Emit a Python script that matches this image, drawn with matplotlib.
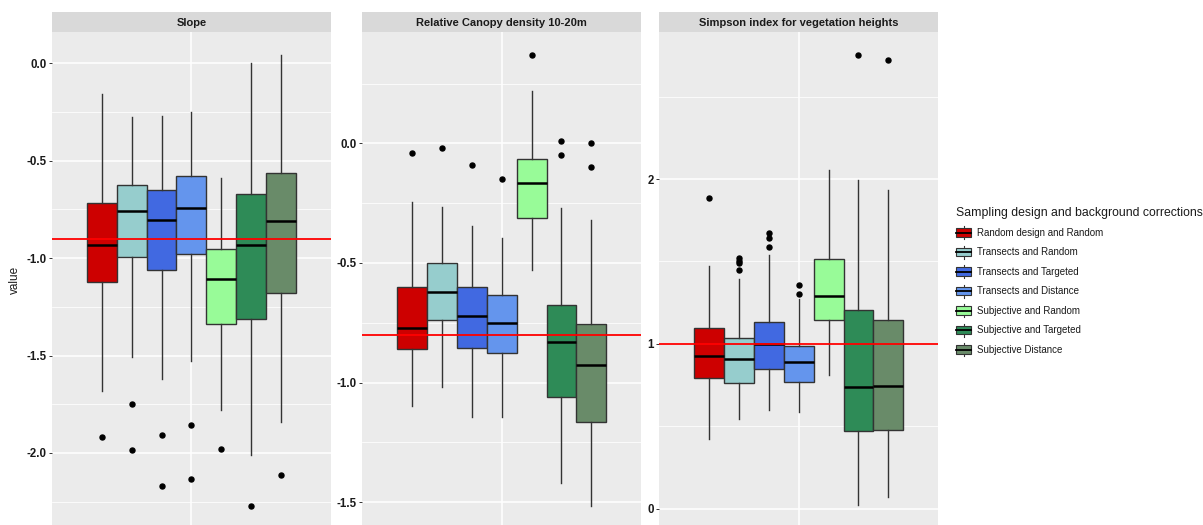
import matplotlib
matplotlib.use("Agg")
import matplotlib.pyplot as plt
from matplotlib.patches import Rectangle
from matplotlib.lines import Line2D
from matplotlib.legend_handler import HandlerBase

plt.rcParams['font.family'] = ['Liberation Sans', 'DejaVu Sans']

# ---- data -------------------------------------------------------------
groups = ["Random design and Random", "Transects and Random",
          "Transects and Targeted", "Transects and Distance",
          "Subjective and Random", "Subjective and Targeted",
          "Subjective Distance"]
colors = ["#CD0000", "#96CDCD", "#4169E1", "#6495ED",
          "#98FB98", "#2E8B57", "#698B69"]
facets = ["Slope", "Relative Canopy density 10-20m",
          "Simpson index for vegetation heights"]

slope_lo = [-1.68, -1.51, -1.62, -1.53, -1.78, -2.01, -1.84]
slope_q1 = [-1.12, -0.995, -1.06, -0.98, -1.34, -1.31, -1.18]
slope_med = [-0.93, -0.76, -0.805, -0.74, -1.105, -0.935, -0.81]
slope_q3 = [-0.715, -0.625, -0.65, -0.58, -0.955, -0.67, -0.565]
slope_hi = [-0.155, -0.275, -0.27, -0.25, -0.59, 0.0, 0.045]
slope_out = [[-1.92], [-1.75, -1.985], [-1.91, -2.17], [-1.855, -2.135],
             [-1.98], [-2.27], [-2.115]]
slope_ref = -0.9

canopy_lo = [-1.10, -1.02, -1.145, -1.145, -0.53, -1.42, -1.515]
canopy_q1 = [-0.86, -0.74, -0.855, -0.875, -0.31, -1.06, -1.165]
canopy_med = [-0.77, -0.62, -0.72, -0.75, -0.165, -0.83, -0.925]
canopy_q3 = [-0.60, -0.50, -0.60, -0.635, -0.065, -0.675, -0.755]
canopy_hi = [-0.245, -0.265, -0.345, -0.395, 0.22, -0.27, -0.32]
canopy_out = [[-0.04], [-0.02], [-0.09], [-0.15], [0.37], [0.01, -0.05],
              [0.0, -0.10]]
canopy_ref = -0.8

simpson_lo = [0.42, 0.545, 0.60, 0.585, 0.81, 0.02, 0.07]
simpson_q1 = [0.795, 0.765, 0.845, 0.77, 1.145, 0.47, 0.475]
simpson_med = [0.925, 0.91, 1.0, 0.89, 1.29, 0.74, 0.745]
simpson_q3 = [1.095, 1.035, 1.135, 0.985, 1.515, 1.205, 1.145]
simpson_hi = [1.475, 1.395, 1.54, 1.27, 2.055, 1.995, 1.935]
simpson_out = [[1.885], [1.52, 1.505, 1.49, 1.45], [1.675, 1.645, 1.59],
               [1.36, 1.305], [], [2.755], [2.72]]
simpson_ref = 1.0

slope_ticks = [-2.0, -1.5, -1.0, -0.5, 0.0]
slope_ticklabels = ["-2.0", "-1.5", "-1.0", "-0.5", "0.0"]
canopy_ticks = [-1.5, -1.0, -0.5, 0.0]
canopy_ticklabels = ["-1.5", "-1.0", "-0.5", "0.0"]
simpson_ticks = [0, 1, 2]
simpson_ticklabels = ["0", "1", "2"]

# ---- styling -----------------------------------------------------------
W, H = 1203, 525
PANEL_BG = "#EBEBEB"
STRIP_BG = "#D9D9D9"
EDGE = "#333333"
TXT = "#1A1A1A"

panels = [
    dict(lo=slope_lo, q1=slope_q1, med=slope_med, q3=slope_q3, hi=slope_hi,
         out=slope_out, ref=slope_ref, ticks=slope_ticks,
         labels=slope_ticklabels, minor=[-2.25, -1.75, -1.25, -0.75, -0.25],
         ylim=(-2.370, 0.161), left=52),
    dict(lo=canopy_lo, q1=canopy_q1, med=canopy_med, q3=canopy_q3,
         hi=canopy_hi, out=canopy_out, ref=canopy_ref, ticks=canopy_ticks,
         labels=canopy_ticklabels, minor=[-1.25, -0.75, -0.25, 0.25],
         ylim=(-1.596, 0.466), left=362.3),
    dict(lo=simpson_lo, q1=simpson_q1, med=simpson_med, q3=simpson_q3,
         hi=simpson_hi, out=simpson_out, ref=simpson_ref, ticks=simpson_ticks,
         labels=simpson_ticklabels, minor=[0.5, 1.5, 2.5],
         ylim=(-0.099, 2.892), left=659.3),
]

fig = plt.figure(figsize=(W / 100, H / 100), dpi=100)
panel_w = 278.8
top_px, strip_px = 32, 20

n = len(groups)
dodge = 0.9 / n
positions = [1 - 0.45 + dodge * (i + 0.5) for i in range(n)]

for name, p in zip(facets, panels):
    ax = fig.add_axes([p["left"] / W, 0, panel_w / W, (H - top_px) / H])
    ax.set_facecolor(PANEL_BG)
    for s in ax.spines.values():
        s.set_visible(False)
    stats = []
    for i in range(n):
        stats.append(dict(med=p["med"][i], q1=p["q1"][i], q3=p["q3"][i],
                          whislo=p["lo"][i], whishi=p["hi"][i],
                          fliers=p["out"][i]))
    bp = ax.bxp(stats, positions=positions, widths=dodge, patch_artist=True,
                showcaps=False, manage_ticks=False,
                boxprops=dict(edgecolor=EDGE, linewidth=1.0),
                whiskerprops=dict(color=EDGE, linewidth=1.0),
                medianprops=dict(color="black", linewidth=1.8),
                flierprops=dict(marker="o", markerfacecolor="black",
                                markeredgecolor="black", markersize=3.6))
    for box, c in zip(bp["boxes"], colors):
        box.set_facecolor(c)
    ax.axhline(p["ref"], color="#FF0000", linewidth=1.3, zorder=5)

    ax.set_xlim(0.4, 1.6)
    ax.set_ylim(*p["ylim"])
    ax.set_xticks([1])
    ax.set_xticklabels([])
    ax.tick_params(axis="x", length=0)
    ax.set_yticks(p["ticks"])
    ax.set_yticklabels(p["labels"], fontweight="bold", fontsize=8.3,
                       color=TXT)
    ax.set_yticks(p["minor"], minor=True)
    ax.tick_params(axis="y", which="major", length=2.5, width=0.7,
                   color=EDGE, pad=1.5)
    ax.tick_params(axis="y", which="minor", length=0)
    ax.set_axisbelow(True)
    ax.grid(which="major", color="white", linewidth=1.1)
    ax.grid(which="minor", axis="y", color="white", linewidth=0.55)

    sax = fig.add_axes([p["left"] / W, (H - top_px) / H, panel_w / W,
                        strip_px / H])
    sax.set_facecolor(STRIP_BG)
    sax.set_xticks([])
    sax.set_yticks([])
    for s in sax.spines.values():
        s.set_visible(False)
    sax.text(0.5, 0.45, name, ha="center", va="center", fontsize=8,
             fontweight="bold", color=TXT, transform=sax.transAxes)

fig.text(15 / W, 1 - 280 / H, "value", rotation=90, ha="center",
         va="center", fontsize=8.5, color=TXT)


class BoxKey(HandlerBase):
    def create_artists(self, legend, orig_handle, xdescent, ydescent,
                       width, height, fontsize, trans):
        fc = orig_handle.get_facecolor()
        x0, y0 = -xdescent, -ydescent
        cx = x0 + width / 2
        whisk = Line2D([cx, cx], [y0, y0 + height], color=EDGE, lw=0.8,
                       transform=trans)
        box = Rectangle((x0, y0 + height * 0.17), width, height * 0.66,
                        facecolor=fc, edgecolor=EDGE, lw=0.8,
                        transform=trans)
        med = Line2D([x0, x0 + width], [y0 + height / 2] * 2,
                     color="black", lw=1.3, transform=trans)
        return [whisk, box, med]


handles = [Rectangle((0, 0), 1, 1, facecolor=c) for c in colors]
leg = fig.legend(handles, groups, loc="upper left",
                 bbox_to_anchor=(956 / W, 1 - 207.5 / H), frameon=False,
                 title="Sampling design and background corrections",
                 alignment="left", fontsize=7, title_fontsize=8.8,
                 handler_map={Rectangle: BoxKey()},
                 handlelength=1.55, handleheight=1.68, handletextpad=0.6,
                 labelspacing=0.67, borderpad=0, borderaxespad=0)
for t in leg.get_texts():
    t.set_color(TXT)
leg.get_title().set_color(TXT)

fig.savefig("out.png", dpi=100)
